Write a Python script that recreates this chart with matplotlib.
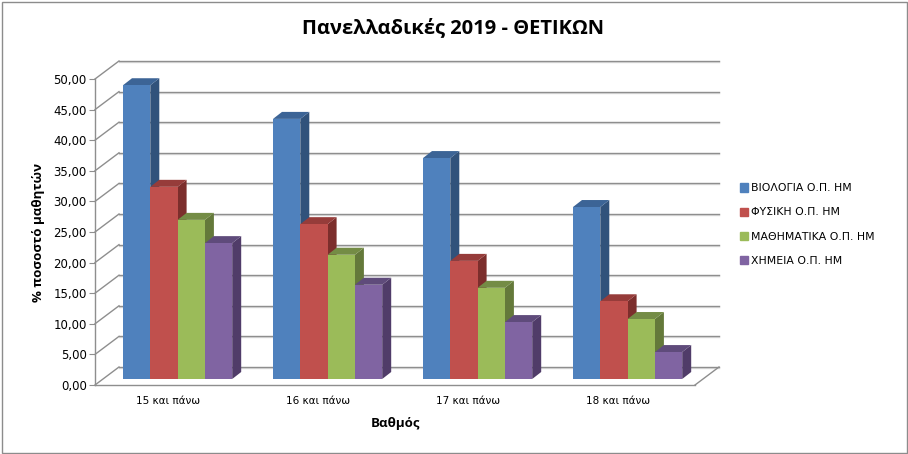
import numpy as np
import matplotlib
matplotlib.use('Agg')
import matplotlib.pyplot as plt
from matplotlib.patches import Patch, Rectangle

categories = ['15 και πάνω', '16 και πάνω', '17 και πάνω', '18 και πάνω']
subjects = ['ΒΙΟΛΟΓΙΑ Ο.Π. ΗΜ', 'ΦΥΣΙΚΗ Ο.Π. ΗΜ', 'ΜΑΘΗΜΑΤΙΚΑ Ο.Π. ΗΜ', 'ΧΗΜΕΙΑ Ο.Π. ΗΜ']
biologia = [48.0, 42.5, 36.1, 28.1]
fysiki = [31.4, 25.3, 19.3, 12.7]
mathimatika = [26.0, 20.3, 14.9, 9.8]
ximeia = [22.2, 15.4, 9.3, 4.4]
yticks = [0, 5, 10, 15, 20, 25, 30, 35, 40, 45, 50]

front = ['#4F81BD', '#C0504D', '#9BBB59', '#8064A2']
side = ['#31527B', '#7C2E2C', '#64793A', '#503C69']
top = ['#3C6496', '#963C3A', '#748C45', '#5F4B7B']
grid_col = '#8e8e8e'

W, H = 908, 454
fig = plt.figure(figsize=(W / 100, H / 100), dpi=100)
fig.patch.set_facecolor('white')
fig.add_artist(Rectangle((1.5 / W, 1.5 / H), (W - 3) / W, (H - 3) / H, transform=fig.transFigure,
                         fill=False, edgecolor='#8c8c8c', lw=1))

# front plane of the fake 3d box, in pixels: x 95-695, y 385-79
ax = fig.add_axes([95 / W, (H - 385) / H, 600 / W, 306 / H])
ax.set_xlim(0, 4)
ax.set_ylim(0, 50)
ax.patch.set_alpha(0)

px_x = 4 / 600
px_y = 50 / 306

# walls
dx = 24 * px_x
dy = 18 * px_y
for v in yticks:
    ax.plot([0, dx], [v, v + dy], color=grid_col, lw=1, clip_on=False, zorder=1)
    ax.plot([dx, 4 + dx], [v + dy - px_y, v + dy - px_y], color='#dedede', lw=1, clip_on=False, zorder=1)
    ax.plot([dx, 4 + dx], [v + dy, v + dy], color=grid_col, lw=1, clip_on=False, zorder=1.1)
ax.plot([4, 4 + dx], [0, dy], color=grid_col, lw=1, clip_on=False, zorder=1)

# bars, left to right so the next front face covers the side of the previous one
series = [biologia, fysiki, mathimatika, ximeia]
bw = 27.3 * px_x
start = 28 * px_x
by = 6 * px_y
sx, sy = 9 * px_x, 7 * px_y
for g in range(len(categories)):
    for s, vals in enumerate(series):
        v = vals[g]
        x0 = g + start + s * bw
        x1 = x0 + bw
        y0 = by
        y1 = by + v
        ax.fill([x1, x1 + sx, x1 + sx, x1], [y0, y0 + sy, y1 + sy, y1], color=side[s], lw=0, zorder=3, clip_on=False)
        ax.fill([x0, x0 + sx, x1 + sx, x1], [y1, y1 + sy, y1 + sy, y1], color=top[s], lw=0, zorder=3, clip_on=False)
        ax.fill([x0, x1, x1, x0], [y0, y0, y1, y1], color=front[s], lw=0, zorder=3, clip_on=False)

for sp in ['top', 'right']:
    ax.spines[sp].set_visible(False)
for sp in ['left', 'bottom']:
    ax.spines[sp].set_color(grid_col)
    ax.spines[sp].set_linewidth(1)
ax.set_yticks(yticks)
ax.set_yticklabels([('%.2f' % v).replace('.', ',') for v in yticks])
ax.tick_params(axis='y', length=4, color=grid_col, labelsize=8.5, pad=2, labelcolor='black')
ax.set_xticks(np.arange(4) + 0.49)
ax.set_xticklabels(categories)
ax.tick_params(axis='x', length=0, labelsize=7.5, pad=8)

fig.text(453 / W, 1 - 28 / H, 'Πανελλαδικές 2019 - ΘΕΤΙΚΩΝ', ha='center', va='center',
         fontsize=14.5, fontweight='bold', family='Open Sans')
fig.text(395 / W, 1 - 424 / H, 'Βαθμός', ha='center', va='center', fontsize=9.5, fontweight='bold',
         family='Open Sans')
fig.text(39 / W, 1 - 232 / H, '% ποσοστό μαθητών', ha='center', va='center', rotation=90,
         fontsize=9.5, fontweight='bold', family='Open Sans')

handles = [Patch(color=c, label=l) for c, l in zip(front, subjects)]
fig.legend(handles=handles, loc='upper left', bbox_to_anchor=(736 / W, 1 - 179 / H), frameon=False,
           fontsize=7.8, handlelength=0.7, handleheight=0.8, handletextpad=0.3, labelspacing=1.3,
           borderpad=0.4, borderaxespad=0)

fig.savefig('out.png', dpi=100)
